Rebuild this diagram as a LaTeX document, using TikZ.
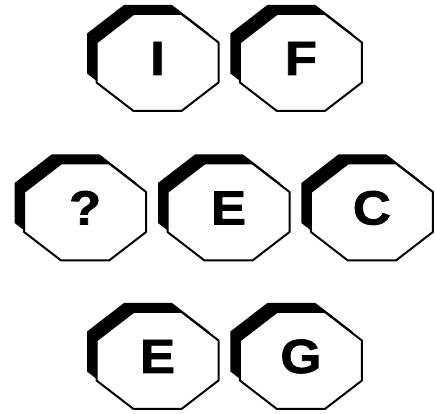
\documentclass[tikz,border=0pt]{standalone}
\usepackage{fontspec}
\newfontfamily\tilefont[FakeStretch=1.1, FakeBold=1.5]{Liberation Sans}
\usetikzlibrary{positioning,backgrounds}

\begin{document}
\begin{tikzpicture}[x=1pt, y=1pt, node distance=21pt,
  tile/.style={minimum width=122pt, minimum height=97pt, inner sep=0pt,
    text height=34pt, text depth=9pt,
    font=\tilefont\bfseries\fontsize{48}{48}\selectfont}]
\useasboundingbox (0,0) rectangle (436,414);
% middle row
\node (m2) [tile] at (228.5,202) {E};
\node (m1) [tile, left=of m2] {?};
\node (m3) [tile, right=of m2] {C};
% top row
\node (t1) [tile] at (157.5,351.5) {I};
\node (t2) [tile, right=of t1] {F};
% bottom row
\node (b1) [tile] at (157.5,53.5) {E};
\node (b2) [tile, right=of b1] {G};
% octagons with their shadow
\begin{scope}[on background layer]
\foreach \n in {t1,t2,m1,m2,m3,b1,b2} {
  \fill[shift={(\n.center)}, xshift=-9.5pt, yshift=9pt]
    (-61,20) -- (-24,48.5) -- (24,48.5) -- (61,20) -- (61,-20) -- (24,-48.5) -- (-24,-48.5) -- (-61,-20) -- cycle;
  \filldraw[shift={(\n.center)}, fill=white, line width=2pt, line join=round]
    (-61,20) -- (-24,48.5) -- (24,48.5) -- (61,20) -- (61,-20) -- (24,-48.5) -- (-24,-48.5) -- (-61,-20) -- cycle;
}
\end{scope}
\end{tikzpicture}
\end{document}
